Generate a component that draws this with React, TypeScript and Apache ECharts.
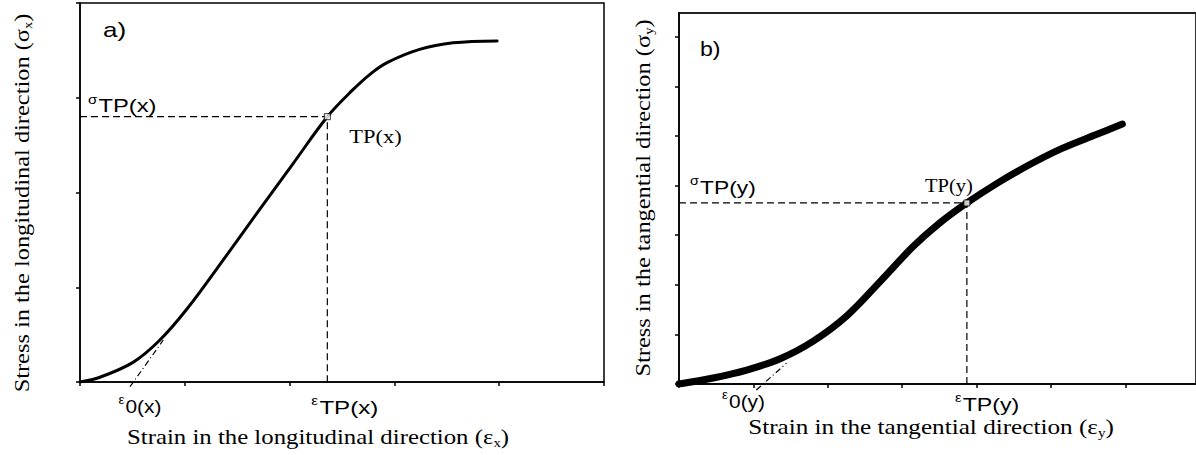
import React, { useEffect, useRef } from "react";
import * as echarts from "echarts";

// Panel a) longitudinal direction
const leftStrain = [0, 0.19, 0.51, 0.76, 1.02, 1.4, 1.72, 2.03, 2.36, 2.6, 2.77, 2.93, 3.24, 3.56, 3.98];
const leftStress = [0, 0.05, 0.21, 0.44, 0.77, 1.34, 1.83, 2.3, 2.8, 3.08, 3.25, 3.37, 3.51, 3.58, 3.6];
const leftTangentStrain = [0.477, 0.795];
const leftTangentStress = [-0.05, 0.443];
const leftTP = [2.36, 2.8];
const leftEps0 = 0.51;
const leftXTicks = [0, 1, 2, 3, 4, 5];
const leftYTicks = [0, 1, 2, 3, 4];

// Panel b) tangential direction
const rightStrain = [0, 0.46, 0.91, 1.36, 1.8, 2.26, 2.7, 3.14, 3.5, 3.87, 4.27, 4.71, 5.15, 5.61, 5.96];
const rightStress = [0, 0.12, 0.28, 0.51, 0.86, 1.38, 2.06, 2.76, 3.24, 3.65, 4.04, 4.42, 4.75, 5.03, 5.24];
const rightTangentStrain = [1.04, 1.446];
const rightTangentStress = [-0.12, 0.42];
const rightTP = [3.87, 3.65];
const rightEps0 = 1.13;
const rightXTicks = [0, 1, 2, 3, 4, 5, 6];
const rightYTicks = [0, 1, 2, 3, 4, 5, 6, 7];

const leftXName = "{m|Strain in the longitudinal direction (ε}{sub|x}{m|)}";
const leftYName = "{m|Stress in the longitudinal direction (σ}{sub|x}{m|)}";
const rightXName = "{m|Strain in the tangential direction (ε}{sub|y}{m|)}";
const rightYName = "{m|Stress in the tangential direction (σ}{sub|y}{m|)}";

const SERIF = "Liberation Serif";
const SANS = "Liberation Sans";

const zip = (a: number[], b: number[]) => a.map((v, i) => [v, b[i]]);

const nameRich = {
  m: { fontFamily: SERIF, fontSize: 20, fill: "#000", lineHeight: 24 },
  sub: { fontFamily: SERIF, fontSize: 12, fill: "#000", verticalAlign: "bottom", lineHeight: 24 },
};

const symRich = {
  s: { fontFamily: SANS, fontSize: 12, fill: "#000", verticalAlign: "top", lineHeight: 12, padding: [0, 1, 0, 0] },
  t: { fontFamily: SANS, fontSize: 19, fill: "#000", verticalAlign: "bottom", lineHeight: 22 },
};

function axis(gridIndex: number, min: number, max: number, ticks: number[]) {
  return {
    type: "value",
    gridIndex,
    min,
    max,
    interval: 1,
    axisLine: { show: true, onZero: false, lineStyle: { color: "#000", width: 1.5 } },
    axisTick: { show: true, inside: false, length: 4, customValues: ticks, lineStyle: { color: "#000", width: 1.5 } },
    axisLabel: { show: false },
    splitLine: { show: false },
  };
}

function panelSeries(gi: number, strain: number[], stress: number[], tx: number[], ty: number[], tp: number[], width: number) {
  return [
    {
      type: "line",
      xAxisIndex: gi,
      yAxisIndex: gi,
      data: zip(strain, stress),
      smooth: 0.35,
      showSymbol: false,
      lineStyle: { color: "#000", width, cap: "round", join: "round" },
      z: 3,
    },
    {
      type: "line",
      xAxisIndex: gi,
      yAxisIndex: gi,
      data: [[0, tp[1]], [tp[0], tp[1]], [tp[0], 0]],
      showSymbol: false,
      lineStyle: { color: "#000", width: 1.2, type: [7, 4] },
      z: 2,
    },
    {
      type: "line",
      xAxisIndex: gi,
      yAxisIndex: gi,
      data: zip(tx, ty),
      showSymbol: false,
      clip: false,
      lineStyle: { color: "#000", width: 1.2, type: [6, 3, 1, 3] },
      z: 2,
    },
    {
      type: "scatter",
      xAxisIndex: gi,
      yAxisIndex: gi,
      data: [tp],
      symbol: "rect",
      symbolSize: 6,
      itemStyle: { color: "#fff", borderColor: "#000", borderWidth: 1 },
      z: 5,
    },
  ];
}

export default function App() {
  const ref = useRef<HTMLDivElement>(null);
  useEffect(() => {
    document.body.style.margin = "0";
    const chart = echarts.init(ref.current!, undefined, { renderer: "svg" });
    chart.setOption({
      animation: false,
      backgroundColor: "#fff",
      grid: [
        { left: 80, top: 3, width: 524, height: 379, show: true, borderColor: "#000", borderWidth: 1.5 },
        { left: 679, top: 13, width: 518, height: 371, show: true, borderColor: "#222", borderWidth: 1.8 },
      ],
      xAxis: [axis(0, 0, 5, leftXTicks), axis(1, 0, 6.95, rightXTicks)],
      yAxis: [axis(0, 0, 4, leftYTicks), axis(1, 0, 7.48, rightYTicks)],
      series: [
        ...panelSeries(0, leftStrain, leftStress, leftTangentStrain, leftTangentStress, leftTP, 3),
        ...panelSeries(1, rightStrain, rightStress, rightTangentStrain, rightTangentStress, rightTP, 7),
      ],
    });

    const px = (gi: number, pt: number[]) => chart.convertToPixel({ gridIndex: gi } as any, pt) as number[];
    const lbl = (
      p: number[],
      dx: number,
      dy: number,
      text: string,
      align: string,
      va: string,
      sx: number,
      rich?: any,
      font?: any,
      rotation = 0
    ) => ({
      type: "text",
      x: p[0] + dx,
      y: p[1] + dy,
      scaleX: sx,
      rotation,
      z: 10,
      style: {
        text,
        align,
        verticalAlign: va,
        rich,
        fill: "#000",
        ...(font || {}),
      },
    });
    const serifFont = { fontFamily: SERIF, fontSize: 19 };
    const a = px(0, [0, leftTP[1]]);
    const b = px(0, leftTP);
    const c = px(0, [leftTP[0], 0]);
    const d = px(0, [leftEps0, 0]);
    const e = px(1, [0, rightTP[1]]);
    const f = px(1, rightTP);
    const g = px(1, [rightTP[0], 0]);
    const h = px(1, [rightEps0, 0]);
    const topL = px(0, [0, 4]);
    const topR = px(1, [0, 7.48]);
    const oL = px(0, [0, 0]);
    const oR = px(1, [0, 0]);
    chart.setOption({
      graphic: [
        lbl(topL, 23, 17, "a)", "left", "top", 1.3, undefined, { fontFamily: SANS, fontSize: 20 }),
        lbl(topR, 21, 25, "b)", "left", "top", 1.1, undefined, { fontFamily: SANS, fontSize: 21 }),
        lbl(a, 8, -1, "{s|σ}{t|TP(x)}", "left", "bottom", 1.25, symRich),
        lbl(b, 22, 10, "TP(x)", "left", "top", 1.18, undefined, serifFont),
        lbl(c, -16, 13, "{s|ε}{t|TP(x)}", "left", "top", 1.27, symRich),
        lbl(d, -15, 12, "{s|ε}{t|0(x)}", "left", "top", 1.1, symRich),
        lbl(e, 11, -6, "{s|σ}{t|TP(y)}", "left", "bottom", 1.2, symRich),
        lbl(f, 6, -8, "TP(y)", "right", "bottom", 1.08, undefined, serifFont),
        lbl(g, -12, 8, "{s|ε}{t|TP(y)}", "left", "top", 1.22, symRich),
        lbl(h, -41, 5, "{s|ε}{t|0(y)}", "left", "top", 1.1, symRich),
        // axis names
        lbl(oL, 238, 55, leftXName, "center", "middle", 1.24, nameRich),
        lbl(oR, 252, 43, rightXName, "center", "middle", 1.26, nameRich),
        lbl(oL, -58, -179, leftYName, "center", "middle", 1.22, nameRich, undefined, Math.PI / 2),
        lbl(oR, -36, -186, rightYName, "center", "middle", 1.22, nameRich, undefined, Math.PI / 2),
      ],
    });
    return () => chart.dispose();
  }, []);
  return <div ref={ref} style={{ width: 1196, height: 455 }} />;
}
